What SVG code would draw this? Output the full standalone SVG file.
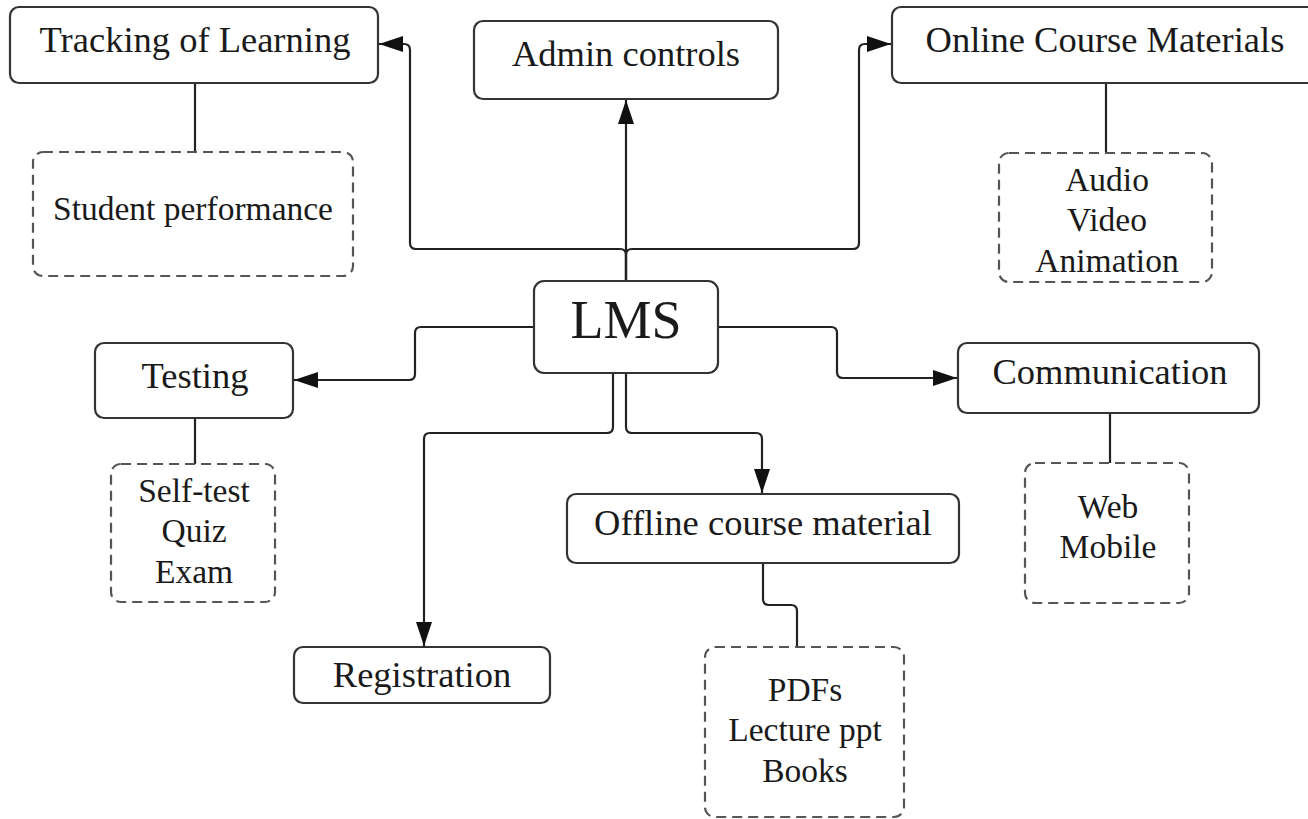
<svg xmlns="http://www.w3.org/2000/svg" width="1308" height="819" viewBox="0 0 1308 819">
<style>
.box{fill:#fff;stroke:#333;stroke-width:2.2}
.dbox{fill:#fff;stroke:#555;stroke-width:2.2;stroke-dasharray:10 6}
.t{font-family:"Liberation Serif","Times New Roman",serif;fill:#1a1a1a;text-anchor:middle}
.big{font-size:36.5px}
.sm{font-size:33.5px}
.lms{font-size:54px}
.c{fill:none;stroke:#222;stroke-width:2.2}
</style>
<defs>
<marker id="arr" markerUnits="userSpaceOnUse" markerWidth="26" markerHeight="18" refX="24" refY="8" orient="auto" viewBox="0 0 26 18">
<path d="M0,0 L24,8 L0,16 Z" fill="#111"/>
</marker>
</defs>
<rect width="1308" height="819" fill="#fff"/>
<g id="connectors">
<path class="c" marker-end="url(#arr)" d="M626,281 L626,255 Q626,249 620,249 L416,249 Q410,249 410,243 L410,50 Q410,44 404,44 L379,44"/>
<path class="c" marker-end="url(#arr)" d="M626,281 L626,100"/>
<path class="c" marker-end="url(#arr)" d="M626,281 L626,255 Q626,249 632,249 L853,249 Q859,249 859,243 L859,50 Q859,44 865,44 L891,44"/>
<path class="c" marker-end="url(#arr)" d="M534,327 L421,327 Q415,327 415,333 L415,374 Q415,380 409,380 L294,380"/>
<path class="c" marker-end="url(#arr)" d="M613,373 L613,427 Q613,433 607,433 L430,433 Q424,433 424,439 L424,646"/>
<path class="c" marker-end="url(#arr)" d="M626,373 L626,427 Q626,433 632,433 L756,433 Q762,433 762,439 L762,493"/>
<path class="c" marker-end="url(#arr)" d="M718,327 L831,327 Q837,327 837,333 L837,372 Q837,378 843,378 L957,378"/>
<path class="c" d="M195,83 L195,152"/>
<path class="c" d="M1106,83 L1106,153"/>
<path class="c" d="M195,418 L195,464"/>
<path class="c" d="M1110,413 L1110,463"/>
<path class="c" d="M763,563 L763,599 Q763,605 769,605 L791,605 Q797,605 797,611 L797,647"/>
</g>
<g id="tracking">
<rect class="box" x="10" y="7" width="368" height="76" rx="9"/>
<text class="t big" x="195" y="52">Tracking of Learning</text>
</g>
<g id="admin">
<rect class="box" x="474" y="21" width="304" height="78" rx="9"/>
<text class="t big" x="626" y="66">Admin controls</text>
</g>
<g id="online">
<rect class="box" x="892" y="7" width="428" height="76" rx="9"/>
<text class="t big" x="1105" y="52">Online Course Materials</text>
</g>
<g id="student">
<rect class="dbox" x="33" y="152" width="320" height="124" rx="10"/>
<text class="t sm" x="193" y="220">Student performance</text>
</g>
<g id="media">
<rect class="dbox" x="999" y="153" width="213" height="129" rx="10"/>
<text class="t sm" x="1107" y="191">Audio</text>
<text class="t sm" x="1107" y="231">Video</text>
<text class="t sm" x="1107" y="272">Animation</text>
</g>
<g id="lms">
<rect class="box" x="534" y="281" width="184" height="92" rx="10"/>
<text class="t lms" x="626" y="338">LMS</text>
</g>
<g id="testing">
<rect class="box" x="95" y="343" width="198" height="75" rx="9"/>
<text class="t big" x="195" y="388">Testing</text>
</g>
<g id="communication">
<rect class="box" x="958" y="343" width="301" height="70" rx="9"/>
<text class="t big" x="1110" y="384">Communication</text>
</g>
<g id="tests">
<rect class="dbox" x="111" y="464" width="164" height="138" rx="10"/>
<text class="t sm" x="194" y="502">Self-test</text>
<text class="t sm" x="194" y="542">Quiz</text>
<text class="t sm" x="194" y="583">Exam</text>
</g>
<g id="channels">
<rect class="dbox" x="1025" y="463" width="164" height="140" rx="10"/>
<text class="t sm" x="1108" y="518">Web</text>
<text class="t sm" x="1108" y="558">Mobile</text>
</g>
<g id="offline">
<rect class="box" x="567" y="494" width="392" height="69" rx="9"/>
<text class="t big" x="763" y="535">Offline course material</text>
</g>
<g id="registration">
<rect class="box" x="294" y="647" width="256" height="56" rx="9"/>
<text class="t big" x="422" y="687">Registration</text>
</g>
<g id="documents">
<rect class="dbox" x="705" y="647" width="199" height="170" rx="10"/>
<text class="t sm" x="805" y="701">PDFs</text>
<text class="t sm" x="805" y="741">Lecture ppt</text>
<text class="t sm" x="805" y="782">Books</text>
</g>
</svg>
